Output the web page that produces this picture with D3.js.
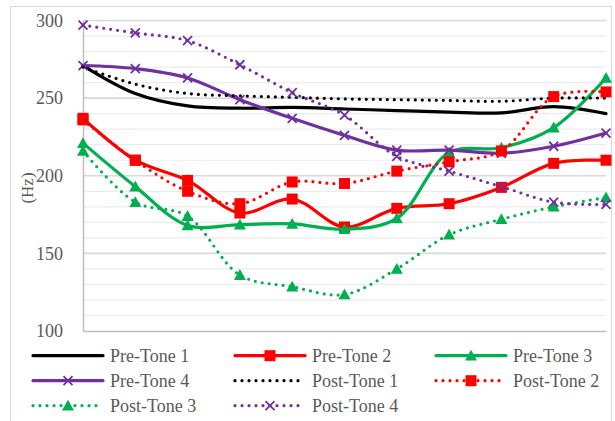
<!DOCTYPE html>
<html><head><meta charset="utf-8">
<script src="https://cdn.jsdelivr.net/npm/d3@7/dist/d3.min.js"></script>
<style>body{margin:0;background:#fff}svg{display:block}text{font-family:"Liberation Serif","Times New Roman",serif !important}</style>
</head><body><svg id="c" width="615" height="421"></svg>
<script>
const categories = [1,2,3,4,5,6,7,8,9,10,11];
const seriesNames = ["Pre-Tone 1","Pre-Tone 2","Pre-Tone 3","Pre-Tone 4","Post-Tone 1","Post-Tone 2","Post-Tone 3","Post-Tone 4"];
const preTone1  = [271, 253, 245, 243.5, 244, 243, 242, 241, 240.5, 244.5, 240];
const preTone2  = [237, 210, 197, 176, 185, 167, 179, 182, 192.5, 208, 210];
const preTone3  = [221, 193, 168, 168.5, 169, 165.5, 172.5, 215, 218, 231, 263];
const preTone4  = [271, 269, 263, 249, 237, 226, 216.5, 216.5, 214.5, 219, 227.5];
const postTone1 = [270, 259, 253, 251.5, 250.5, 249.5, 249, 248.5, 248, 250, 250];
const postTone2 = [236, 210, 190, 182, 196, 195, 203, 209, 216, 251, 254];
const postTone3 = [216, 183, 174, 136, 128.5, 123.5, 140, 162, 172, 180, 186];
const postTone4 = [297, 292, 287, 271.5, 253.5, 239, 212.5, 203, 193, 183, 181.5];
const yTicks = [100, 150, 200, 250, 300];

const seriesValues = [preTone1, preTone2, preTone3, preTone4, postTone1, postTone2, postTone3, postTone4];
const colors = ["#000000","#ff0000","#00b050","#7030a0","#000000","#ff0000","#00b050","#7030a0"];
const markers = ["none","square","triangle","x","none","square","triangle","x"];
const dotted = [false,false,false,false,true,true,true,true];
const FONT = "'Liberation Serif', 'Times New Roman', serif";

const svg = d3.select("#c");
svg.append("rect").attr("x",10.5).attr("y",6.5).attr("width",601).attr("height",420)
  .attr("fill","#fff").attr("stroke","#d9d9d9").attr("stroke-width",1);

const x = d3.scalePoint().domain(categories).range([83, 606]);
const y = d3.scaleLinear().domain([100, 300]).range([331, 20.5]);

const g = svg.append("g");
g.selectAll("line.minor").data(d3.range(110, 300, 10).filter(v => v % 50 !== 0)).join("line")
  .attr("x1", 83).attr("x2", 606).attr("y1", d => y(d)).attr("y2", d => y(d))
  .attr("stroke", "#ececec").attr("stroke-width", 1.2);
g.selectAll("line.major").data(yTicks.filter(v => v > 100)).join("line")
  .attr("x1", 83).attr("x2", 606).attr("y1", d => y(d)).attr("y2", d => y(d))
  .attr("stroke", "#d9d9d9").attr("stroke-width", 1.6);

const yAxis = d3.axisLeft(y).tickValues(yTicks).tickSize(0).tickPadding(20);
const ya = svg.append("g").attr("transform","translate(83,0)").call(yAxis);
ya.attr("font-family", FONT);
ya.select(".domain").attr("stroke","#bfbfbf").attr("stroke-width",1.5);
ya.selectAll("text").style("font-family", FONT).attr("font-size",18).attr("fill","#595959");
const xAxis = d3.axisBottom(x).tickSize(0).tickFormat("");
const xa = svg.append("g").attr("transform","translate(0,331)").call(xAxis);
xa.select(".domain").attr("stroke","#bfbfbf").attr("stroke-width",1.5);

svg.append("text").attr("transform","translate(33,188) rotate(-90)").attr("text-anchor","middle")
  .style("font-family", FONT).attr("font-size",17).attr("fill","#595959").text("(Hz)");

const line = d3.line().x((d,i) => x(categories[i])).y(d => y(d)).curve(d3.curveCatmullRom.alpha(0.5));

function drawMarker(sel, type, color, cx, cy) {
  if (type === "square") {
    sel.append("rect").attr("x", cx-5.5).attr("y", cy-5.5).attr("width", 11).attr("height", 11).attr("fill", color);
  } else if (type === "triangle") {
    const s = 6;
    sel.append("path").attr("d", `M${cx},${cy-s}L${cx+s},${cy+s*0.8}L${cx-s},${cy+s*0.8}Z`).attr("fill", color);
  } else if (type === "x") {
    const s = 4.5;
    sel.append("path").attr("d", `M${cx-s},${cy-s}L${cx+s},${cy+s}M${cx-s},${cy+s}L${cx+s},${cy-s}`)
      .attr("stroke", color).attr("stroke-width", 1.8).attr("fill","none");
  }
}

seriesValues.forEach((vals, si) => {
  const gs = svg.append("g");
  gs.append("path").attr("d", line(vals)).attr("fill","none").attr("stroke", colors[si])
    .attr("stroke-width", 3.2).attr("stroke-linecap","round")
    .attr("stroke-dasharray", dotted[si] ? "0,7" : null);
  vals.forEach((v, i) => drawMarker(gs, markers[si], colors[si], x(categories[i]), y(v)));
});

const legCols = [33, 235, 436];
const legRows = [355.7, 380.7, 405.7];
seriesNames.forEach((name, si) => {
  const col = si % 3, row = Math.floor(si / 3);
  const lx = legCols[col], ly = legRows[row];
  const gl = svg.append("g");
  gl.append("line").attr("x1", lx).attr("x2", lx + 70).attr("y1", ly).attr("y2", ly)
    .attr("stroke", colors[si]).attr("stroke-width", 3.2).attr("stroke-linecap","round")
    .attr("stroke-dasharray", dotted[si] ? "0,7" : null);
  drawMarker(gl, markers[si], colors[si], lx + 35, ly);
  gl.append("text").attr("x", lx + 77).attr("y", ly).attr("dy","0.35em")
    .style("font-family", FONT).attr("font-size",18).attr("fill","#595959").text(name);
});
</script></body></html>
